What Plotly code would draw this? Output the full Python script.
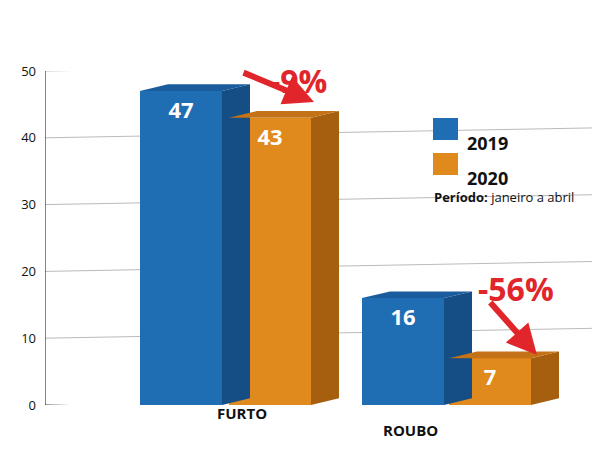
import plotly.graph_objects as go

categories = ["FURTO", "ROUBO"]
years = ["2019", "2020"]
values_2019 = [47, 16]
values_2020 = [43, 7]
changes = ["-9%", "-56%"]
y_ticks = [0, 10, 20, 30, 40, 50]

centers = {("FURTO", "2019"): 181, ("FURTO", "2020"): 270,
           ("ROUBO", "2019"): 403, ("ROUBO", "2020"): 490}
W = 82
DX, DY = 28, 1.0
cols = {"2019": ("#1f6db3", "#154e85", "#1a5c9c"),
        "2020": ("#e0891c", "#a65f0f", "#c37217")}

fig = go.Figure()
shapes = []
for yr, vals in zip(years, [values_2019, values_2020]):
    front, side, top = cols[yr]
    xs = [centers[(c, yr)] for c in categories]
    fig.add_trace(go.Bar(x=xs, y=vals, width=W, marker=dict(color=front, line=dict(width=0)),
                         text=[str(v) for v in vals], textposition="inside", insidetextanchor="end",
                         texttemplate="<b>%{text}</b>",
                         textfont=dict(color="white", size=22, family="Open Sans"),
                         showlegend=False, hoverinfo="skip"))
    for x, v in zip(xs, vals):
        r = x + W / 2
        l = x - W / 2
        shapes.append(dict(type="path", xref="x", yref="y", layer="above",
                           path=f"M{r},0 L{r+DX},{DY} L{r+DX},{v+DY} L{r},{v} Z",
                           fillcolor=side, line=dict(width=0)))
        shapes.append(dict(type="path", xref="x", yref="y", layer="above",
                           path=f"M{l},{v} L{r},{v} L{r+DX},{v+DY} L{l+DX},{v+DY} Z",
                           fillcolor=top, line=dict(width=0)))

for t in y_ticks[1:]:
    shapes.append(dict(type="line", xref="x", yref="y", x0=45, x1=600, y0=t, y1=t + 1.5,
                       line=dict(color="#bbbbbb", width=1), layer="below"))
shapes.append(dict(type="line", xref="x", yref="y", x0=45, x1=600, y0=0, y1=-2,
                   line=dict(color="#333333", width=1.2), layer="below"))
shapes.append(dict(type="line", xref="x", yref="y", x0=45, x1=45, y0=0, y1=50,
                   line=dict(color="#333333", width=1.2), layer="below"))

def py(p):
    return (405 - p) / 334
def px(p):
    return (p - 45) / 555
for (y0, y1), yr in [((118, 140), "2019"), ((153, 175), "2020")]:
    shapes.append(dict(type="rect", xref="paper", yref="paper", x0=px(433), x1=px(458),
                       y0=py(y1), y1=py(y0), fillcolor=cols[yr][0], line=dict(width=0)))

ann = []
F = "Open Sans"
ann.append(dict(xref="paper", yref="paper", x=px(465), y=py(129), text="<b>2019</b>", showarrow=False,
                xanchor="left", font=dict(size=18, family=F, color="#111")))
ann.append(dict(xref="paper", yref="paper", x=px(465), y=py(164), text="<b>2020</b>", showarrow=False,
                xanchor="left", font=dict(size=18, family=F, color="#111")))
ann.append(dict(xref="paper", yref="paper", x=px(432), y=py(197), text="<b>Período:</b> janeiro a abril",
                showarrow=False, xanchor="left", font=dict(size=13, family=F, color="#111")))
ann.append(dict(xref="paper", yref="paper", x=px(215), y=py(425), text="<b>FURTO</b>", showarrow=False,
                font=dict(size=15, family=F, color="#111")))
ann.append(dict(xref="paper", yref="paper", x=px(440), y=py(442), text="<b>ROUBO</b>", showarrow=False,
                font=dict(size=15, family=F, color="#111")))
red = "#e0262a"
ann.append(dict(xref="paper", yref="paper", x=px(298), y=py(57), text="<b>" + changes[0] + "</b>",
                showarrow=False, font=dict(size=32, family=F, color=red)))
ann.append(dict(xref="paper", yref="paper", x=px(556), y=py(312), text="<b>" + changes[1] + "</b>",
                showarrow=False, font=dict(size=32, family=F, color=red)))
ann.append(dict(xref="paper", yref="paper", x=px(314), y=py(102), ax=-72, ay=-30, text="",
                showarrow=True, arrowhead=2, arrowsize=1, arrowwidth=6, arrowcolor=red))
ann.append(dict(xref="paper", yref="paper", x=px(537), y=py(355), ax=-48, ay=-54, text="",
                showarrow=True, arrowhead=2, arrowsize=1, arrowwidth=6, arrowcolor=red))

fig.update_layout(
    width=600, height=456, margin=dict(l=37, r=8, t=63, b=59),
    plot_bgcolor="white", paper_bgcolor="white", bargap=0,
    xaxis=dict(range=[45, 600], showgrid=False, showticklabels=False, zeroline=False, fixedrange=True),
    yaxis=dict(range=[0, 50], tickvals=y_ticks, showgrid=False, zeroline=False,
               tickfont=dict(size=13, family=F, color="#111"), ticks="", ticklabelstandoff=8),
    shapes=shapes, annotations=ann,
)
fig.write_html("out.html")
